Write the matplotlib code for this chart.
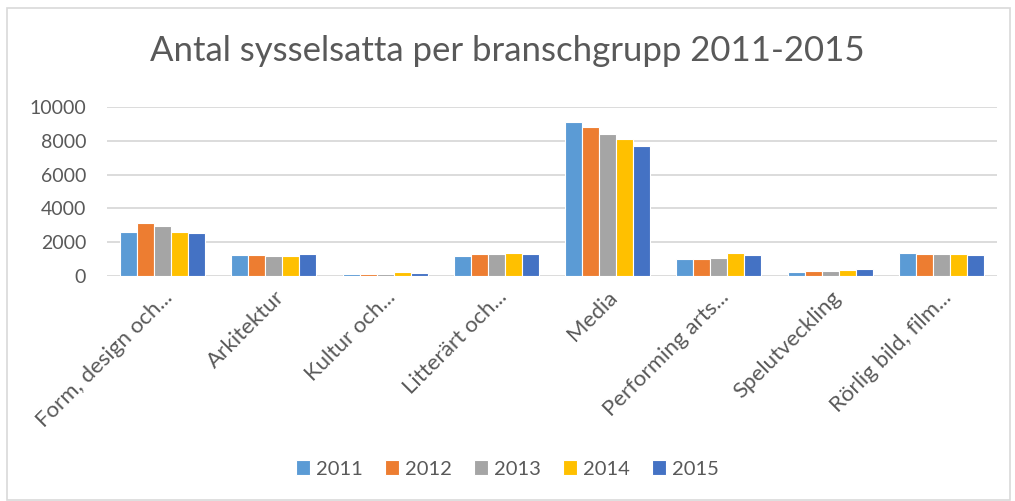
import matplotlib
matplotlib.use("Agg")
import matplotlib.pyplot as plt
import numpy as np
from matplotlib.patches import Rectangle

# ── Data ──────────────────────────────────────────────────────────────────────
categories = ["Form, design och...", "Arkitektur", "Kultur och...", "Litterärt och...",
              "Media", "Performing arts...", "Spelutveckling", "Rörlig bild, film..."]
years = ["2011", "2012", "2013", "2014", "2015"]
v2011 = [2580, 1220, 100, 1200, 9120, 1025, 240, 1360]
v2012 = [3150, 1220, 100, 1280, 8800, 985, 280, 1280]
v2013 = [2930, 1200, 100, 1320, 8410, 1065, 315, 1320]
v2014 = [2580, 1180, 215, 1340, 8120, 1380, 335, 1320]
v2015 = [2540, 1280, 160, 1320, 7720, 1220, 395, 1260]
series = [v2011, v2012, v2013, v2014, v2015]
colors = ["#5B9BD5", "#ED7D31", "#A5A5A5", "#FFC000", "#4472C4"]

TXT = "#595959"
plt.rcParams["font.family"] = ["Lato", "DejaVu Sans"]

W, H = 1015, 501
fig = plt.figure(figsize=(W / 100, H / 100), dpi=100)
ax = fig.add_axes([107 / W, 1 - 276 / H, (997 - 107) / W, (276 - 107) / H])

x = np.arange(len(categories))
bw = 0.153
for i, (vals, c, yr) in enumerate(zip(series, colors, years)):
    ax.bar(x + (i - 2) * bw, vals, width=bw, color=c, edgecolor="white",
           linewidth=0.8, label=yr, zorder=3)

ax.set_xlim(-0.5, len(categories) - 0.5)
ax.set_ylim(0, 10000)
ax.set_yticks(range(0, 10001, 2000))
ax.grid(axis="y", color="#D9D9D9", linewidth=1.3, zorder=0)
for s in ax.spines.values():
    s.set_visible(False)
ax.tick_params(axis="both", length=0, labelsize=14, labelcolor=TXT)
ax.tick_params(axis="y", pad=15)
ax.set_xticks(x)
ax.set_xticklabels(categories, rotation=45, ha="right", rotation_mode="anchor",
                   fontsize=16)
ax.tick_params(axis="x", pad=8)

fig.text(0.5, 1 - 51 / H, "Antal sysselsatta per branschgrupp 2011-2015",
         ha="center", va="center", fontsize=25, color=TXT)

leg = fig.legend(loc="center", bbox_to_anchor=(0.5, 1 - 469 / H), ncol=5,
                 frameon=False, fontsize=14.5, handlelength=0.7, handleheight=0.7,
                 handletextpad=0.3, columnspacing=1.1)
for t in leg.get_texts():
    t.set_color(TXT)

# chart border
fig.patches.append(Rectangle((7 / W, 0.002), (1010 - 7) / W, 1 - 8 / H - 0.002,
                             transform=fig.transFigure, fill=False,
                             edgecolor="#D9D9D9", linewidth=1.2))

fig.savefig("out.png", dpi=100)
